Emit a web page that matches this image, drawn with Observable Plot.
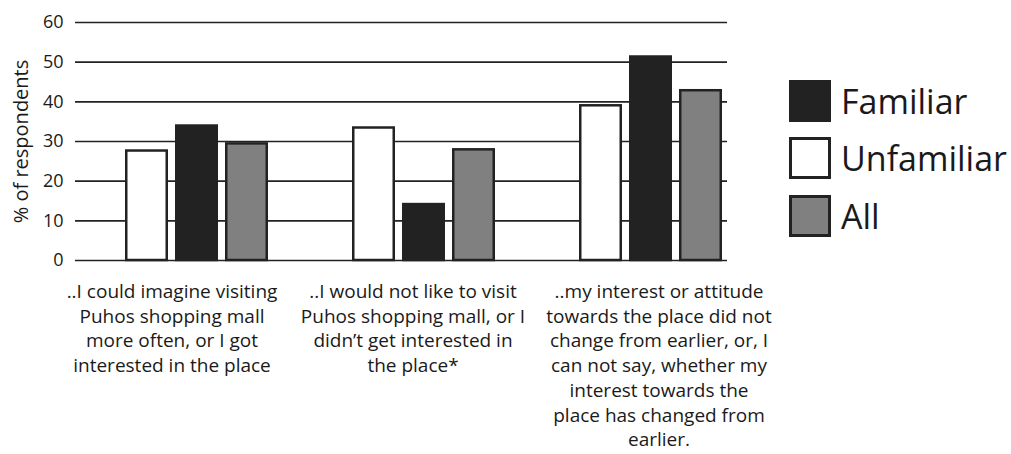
<!DOCTYPE html>
<html>
<head>
<meta charset="utf-8">
<script src="https://cdn.jsdelivr.net/npm/d3@7"></script>
<script src="https://cdn.jsdelivr.net/npm/@observablehq/plot@0.6"></script>
<style>
  html, body { margin: 0; padding: 0; background: #fff; }
  #wrap { position: relative; width: 1011px; height: 454px; font-family: "Open Sans", sans-serif; }
  #legend { position: absolute; left: 789px; top: 72px; }
  .item { display: flex; align-items: center; height: 57.5px; }
  .sw { width: 36px; height: 36px; border: 3px solid #222; box-sizing: content-box; margin-right: 10px; }
  .lab { font-size: 34px; color: #1a1a1a; line-height: 1; }
</style>
</head>
<body>
<div id="wrap"><div id="legend"></div></div>
<script>
const groups = ["g1", "g2", "g3"];
const groupLabels = [
  "..I could imagine visiting\nPuhos shopping mall\nmore often, or I got\ninterested in the place",
  "..I would not like to visit\nPuhos shopping mall, or I\ndidn’t get interested in\nthe place*",
  "..my interest or attitude\ntowards the place did not\nchange from earlier, or, I\ncan not say, whether my\ninterest towards the\nplace has changed from\nearlier."
];
const seriesNames = ["Unfamiliar", "Familiar", "All"];
const unfamiliar = [27.6, 33.4, 39.0];
const familiar = [33.9, 14.1, 51.3];
const allResp = [29.4, 27.9, 42.8];
const yTicks = [0, 10, 20, 30, 40, 50, 60];
const yLabel = "% of respondents";
const legendOrder = ["Familiar", "Unfamiliar", "All"];

// styling / layout (not data)
const fills = {Unfamiliar: "#ffffff", Familiar: "#222222", All: "#808080"};
const barOffsets = {Unfamiliar: -50, Familiar: 0, All: 50};
const labelShift = [-25, -11, 8];

const seriesValues = {Unfamiliar: unfamiliar, Familiar: familiar, All: allResp};
const data = seriesNames.flatMap(s => groups.map((g, i) => ({group: g, series: s, value: seriesValues[s][i]})));
const labels = groups.map((g, i) => ({group: g, label: groupLabels[i]}));

const bw = 227.5, barW = 41, inset = (bw - barW) / 2;

const marks = [
  Plot.ruleY(yTicks, {stroke: "#222", strokeWidth: 1.6}),
  ...seriesNames.map(s => Plot.barY(data.filter(d => d.series === s), {
    x: "group", y: "value", fill: fills[s], stroke: "#222", strokeWidth: 2.5,
    insetLeft: inset, insetRight: inset, dx: barOffsets[s]
  })),
  Plot.axisY({ticks: yTicks, tickSize: 0, tickPadding: 12, fontSize: 18, fill: "#1a1a1a", label: null}),
  Plot.text([yLabel], {frameAnchor: "left", dx: -54, rotate: -90, textAnchor: "middle",
    fontSize: 20, fill: "#1a1a1a", text: d => d}),
  ...labels.map((l, i) => Plot.text([l], {
    x: "group", text: "label", frameAnchor: "bottom", lineAnchor: "top", dy: 20, dx: labelShift[i],
    fontSize: 19, lineHeight: 1.3, fill: "#1a1a1a"
  }))
];

const chart = Plot.plot({
  width: 1011, height: 454,
  marginTop: 22, marginBottom: 194, marginLeft: 75, marginRight: 284,
  style: {fontFamily: "'Open Sans', sans-serif", background: "#fff", overflow: "visible"},
  x: {domain: groups, range: [81.75, 764.25], padding: 0, axis: null},
  y: {domain: [0, 60]},
  marks
});
document.getElementById("wrap").prepend(chart);

const leg = document.getElementById("legend");
for (const s of legendOrder) {
  const it = document.createElement("div"); it.className = "item";
  const sw = document.createElement("div"); sw.className = "sw"; sw.style.background = fills[s];
  const lb = document.createElement("span"); lb.className = "lab"; lb.textContent = s;
  it.append(sw, lb); leg.append(it);
}
</script>
</body>
</html>
